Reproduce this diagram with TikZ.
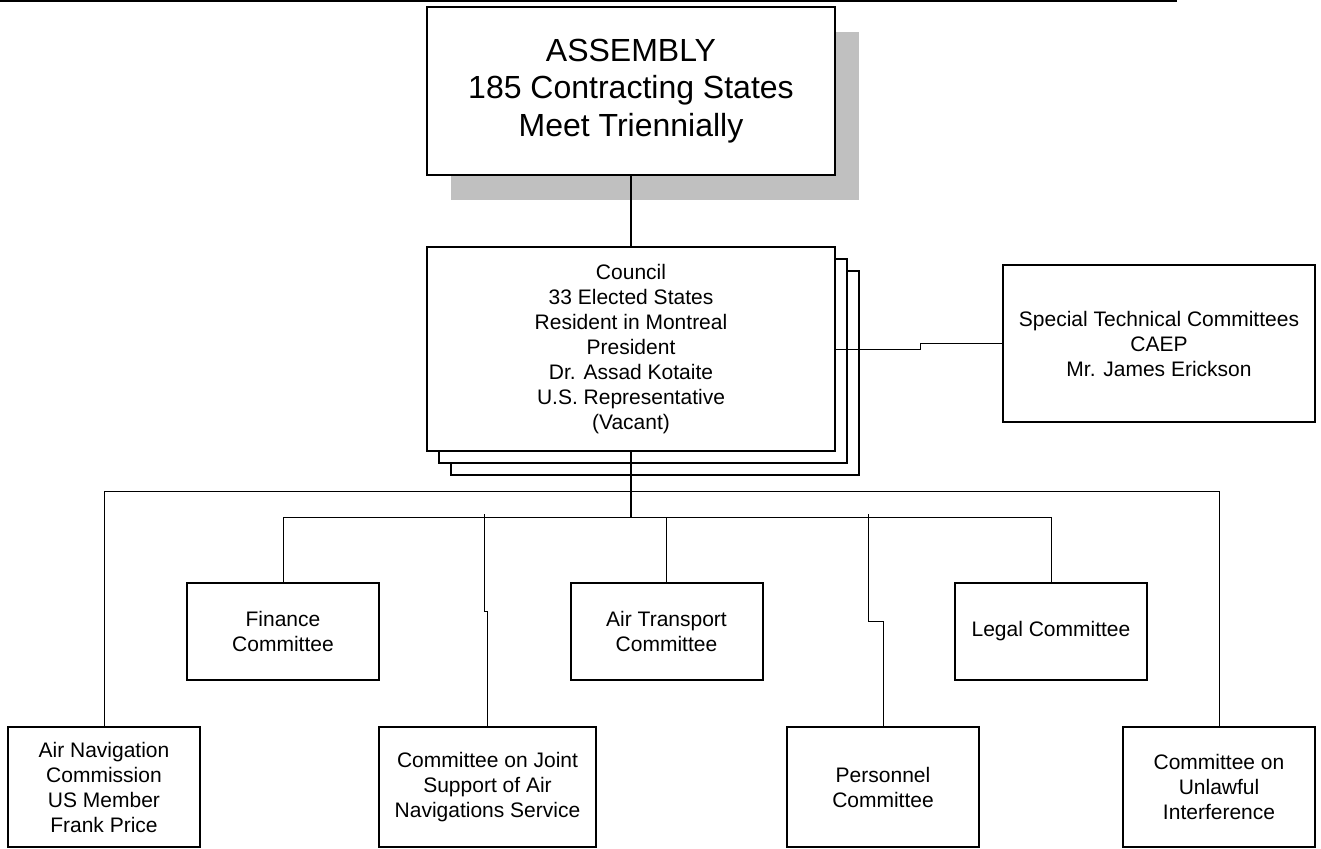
\documentclass[tikz,border=0pt]{standalone}
\usepackage{fontspec}
\setmainfont{Liberation Sans}
\usetikzlibrary{calc}
\definecolor{shadowgray}{RGB}{192,192,192}
\tikzset{
  unitbox/.style={draw,line width=1pt,fill=white,align=center,inner sep=0pt,
    font=\fontsize{10.5}{12.5}\selectfont},
  wide/.style={minimum width=96pt,minimum height=48.5pt},
  tall/.style={minimum width=96pt,minimum height=60pt},
  shadearea/.style={fill=shadowgray,draw=none},
  trunk/.style={line width=1pt},
  link/.style={line width=0.5pt},
  toprule/.style={line width=1pt}
}

\begin{document}
\begin{tikzpicture}[x=0.5pt,y=-0.5pt]
    \useasboundingbox (0,0) rectangle (1321,848);
    \draw[toprule] (0,1)--(1177,1);
    % assembly with its shadow
    \fill[shadearea] (451,32) rectangle (859,200);
    \node[unitbox,minimum width=204pt,minimum height=84pt,
      font=\fontsize{16}{18.75}\selectfont] (assembly) at (631,91)
      {ASSEMBLY\\185 Contracting States\\Meet Triennially};
    % council, three sheets
    \draw[line width=1pt,fill=white] (451,271) rectangle (859,475);
    \draw[line width=1pt,fill=white] (439,259) rectangle (847,463);
    \node[unitbox,minimum width=204pt,minimum height=102pt] (council) at (631,349)
      {Council\\33 Elected States\\Resident in Montreal\\President\\Dr. Assad Kotaite\\U.S. Representative\\(Vacant)};
    \node[unitbox,minimum width=156pt,minimum height=78.5pt] (stc) at (1159,343.5)
      {Special Technical Committees\\CAEP\\Mr. James Erickson};
    % committees
    \node[unitbox,wide] (finance) at (283,631.5) {Finance\\Committee};
    \node[unitbox,wide] (airtrans) at (666.5,631.5) {Air Transport\\Committee};
    \node[unitbox,wide] (legal) at (1051,631.5) {Legal Committee};
    \node[unitbox,tall] (airnav) at (104,787) {Air Navigation\\Commission\\US Member\\Frank Price};
    \node[unitbox,tall,minimum width=108.5pt] (joint) at (487.5,787)
      {Committee on Joint\\Support of Air\\Navigations Service};
    \node[unitbox,tall] (personnel) at (883,787) {Personnel\\Committee};
    \node[unitbox,tall] (unlawful) at (1219,787) {Committee on\\Unlawful\\Interference};
    \coordinate (bus) at (631,517);
    \coordinate (outbus) at (631,491);
    % connectors
    \draw[trunk] (assembly.south)--(council.north);
    \draw[trunk] (council.south)--(bus);
    \draw[link] (council.east) -- ++(84,0) |- (stc.west);
    \draw[link] (finance.north) |- (bus) -| (legal.north);
    \draw[link] (airtrans.north) -- (airtrans.north |- bus);
    \draw[link] (airnav.north) |- (outbus) -| (unlawful.north);
    \draw[link] (joint.north) |- ++(-3,-115) -- ++(0,-97);
    \draw[link] (personnel.north) |- ++(-15,-105) -- ++(0,-107);
  \end{tikzpicture}
\end{document}
